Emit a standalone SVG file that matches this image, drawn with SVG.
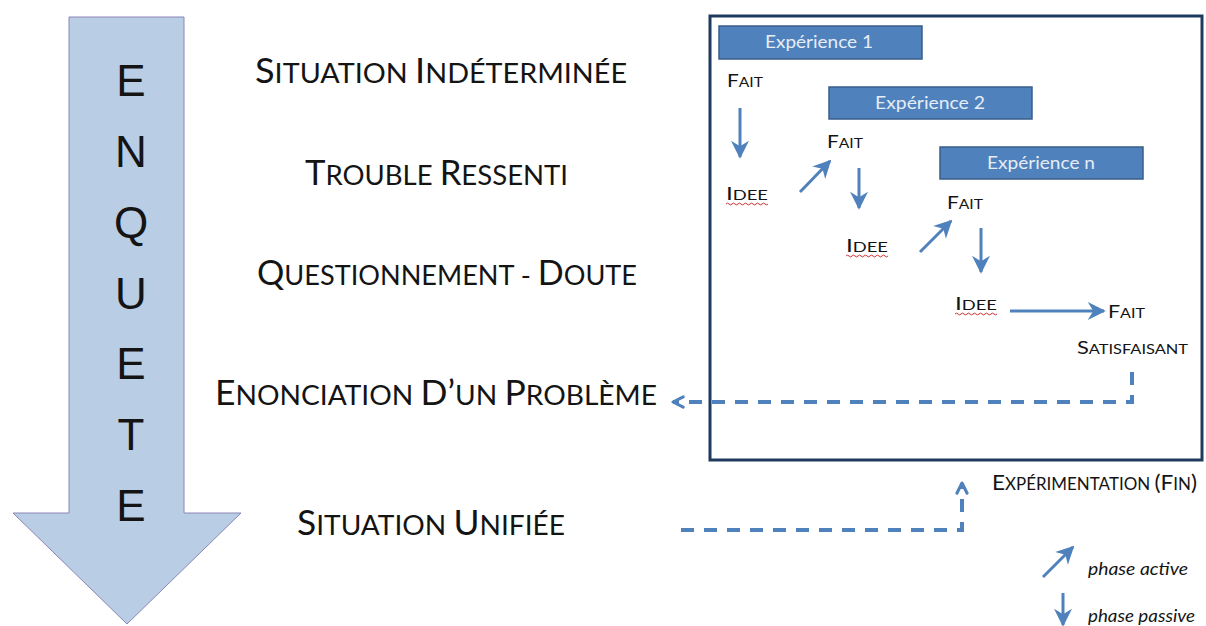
<svg xmlns="http://www.w3.org/2000/svg" width="1206" height="626" viewBox="0 0 1206 626">
<style>
text{font-family:Lato,"Open Sans","Liberation Sans",sans-serif;fill:#141414}
.main .b{font-size:34px}
.main .s{font-size:27px}
.lbl .b{font-size:18px}
.lbl .s{font-size:13.5px}
.lbl2 .b{font-size:22px}
.lbl2 .s{font-size:16.5px}
.exp rect{fill:#4F81BD;stroke:#385D8A;stroke-width:1.5}
.exp text{fill:#e6edf6;font-size:17px;text-anchor:middle}
.arr{stroke:#4F81BD;stroke-width:3;fill:none;marker-end:url(#ah)}
.dash{stroke:#4F81BD;stroke-width:4;fill:none;stroke-dasharray:13 10;marker-end:url(#ch)}
.sq{stroke:#d03030;stroke-width:1;fill:none}
.leg{font-style:italic;font-size:18px}
.enq{font-family:"Liberation Sans",Arial,sans-serif;font-size:44px;text-anchor:middle}
</style>
<defs>
<marker id="ah" viewBox="0 0 10 10" refX="9" refY="5" markerWidth="6" markerHeight="6" orient="auto" overflow="visible">
<path d="M0,0 L10,5 L0,10 L3,5 z" fill="#4F81BD"/>
</marker>
<marker id="ch" viewBox="0 0 10 10" refX="9" refY="5" markerWidth="3.2" markerHeight="3.2" orient="auto" overflow="visible">
<path d="M1,1 L9,5 L1,9" fill="none" stroke="#4F81BD" stroke-width="2.4" stroke-linecap="round" stroke-linejoin="round"/>
</marker>
</defs>
<rect width="1206" height="626" fill="#ffffff"/>

<g id="enquete-arrow">
<polygon points="69,17 184,17 184,513 241,513 127,624 13,513 69,513" fill="#B9CDE5" stroke="#8B86B8" stroke-width="1"/>
<text class="enq" x="131" y="96">E</text>
<text class="enq" x="131" y="167">N</text>
<text class="enq" x="131" y="238">Q</text>
<text class="enq" x="131" y="309">U</text>
<text class="enq" x="131" y="379">E</text>
<text class="enq" x="131" y="450">T</text>
<text class="enq" x="131" y="521">E</text>
</g>

<g id="situation-indeterminee" class="main"><text x="255" y="83" textLength="372" lengthAdjust="spacingAndGlyphs"><tspan class="b">S</tspan><tspan class="s">ITUATION </tspan><tspan class="b">I</tspan><tspan class="s">NDÉTERMINÉE</tspan></text></g>
<g id="trouble-ressenti" class="main"><text x="305" y="185" textLength="263" lengthAdjust="spacingAndGlyphs"><tspan class="b">T</tspan><tspan class="s">ROUBLE </tspan><tspan class="b">R</tspan><tspan class="s">ESSENTI</tspan></text></g>
<g id="questionnement" class="main"><text x="257" y="285" textLength="380" lengthAdjust="spacingAndGlyphs"><tspan class="b">Q</tspan><tspan class="s">UESTIONNEMENT - </tspan><tspan class="b">D</tspan><tspan class="s">OUTE</tspan></text></g>
<g id="enonciation" class="main"><text x="215" y="405" textLength="442" lengthAdjust="spacingAndGlyphs"><tspan class="b">E</tspan><tspan class="s">NONCIATION </tspan><tspan class="b">D’</tspan><tspan class="s">UN </tspan><tspan class="b">P</tspan><tspan class="s">ROBLÈME</tspan></text></g>
<g id="situation-unifiee" class="main"><text x="297" y="535" textLength="268" lengthAdjust="spacingAndGlyphs"><tspan class="b">S</tspan><tspan class="s">ITUATION </tspan><tspan class="b">U</tspan><tspan class="s">NIFIÉE</tspan></text></g>

<g id="experimentation-box">
<rect x="710" y="16" width="492" height="444" fill="none" stroke="#1F3A5F" stroke-width="3"/>
</g>

<g id="experience-1" class="exp"><rect x="719" y="26" width="203" height="33"/><text x="819" y="48" textLength="108" lengthAdjust="spacingAndGlyphs">Expérience 1</text></g>
<g id="experience-2" class="exp"><rect x="829" y="87" width="203" height="32"/><text x="930" y="109" textLength="110" lengthAdjust="spacingAndGlyphs">Expérience 2</text></g>
<g id="experience-n" class="exp"><rect x="940" y="147" width="203" height="32"/><text x="1041" y="169" textLength="108" lengthAdjust="spacingAndGlyphs">Expérience n</text></g>

<g id="fait-1" class="lbl"><text x="727" y="87" textLength="36" lengthAdjust="spacingAndGlyphs"><tspan class="b">F</tspan><tspan class="s">AIT</tspan></text></g>
<g id="idee-1" class="lbl"><text x="726" y="200" textLength="42" lengthAdjust="spacingAndGlyphs"><tspan class="b">I</tspan><tspan class="s">DEE</tspan></text>
<path class="sq" d="M726,204 q1.5,-1.8 3,0 t3,0 t3,0 t3,0 t3,0 t3,0 t3,0 t3,0 t3,0 t3,0 t3,0 t3,0 t3,0 t3,0"/></g>
<g id="fait-2" class="lbl"><text x="827" y="148" textLength="36" lengthAdjust="spacingAndGlyphs"><tspan class="b">F</tspan><tspan class="s">AIT</tspan></text></g>
<g id="idee-2" class="lbl"><text x="846" y="252" textLength="42" lengthAdjust="spacingAndGlyphs"><tspan class="b">I</tspan><tspan class="s">DEE</tspan></text>
<path class="sq" d="M846,256 q1.5,-1.8 3,0 t3,0 t3,0 t3,0 t3,0 t3,0 t3,0 t3,0 t3,0 t3,0 t3,0 t3,0 t3,0 t3,0"/></g>
<g id="fait-3" class="lbl"><text x="947" y="209" textLength="36" lengthAdjust="spacingAndGlyphs"><tspan class="b">F</tspan><tspan class="s">AIT</tspan></text></g>
<g id="idee-3" class="lbl"><text x="955" y="310" textLength="42" lengthAdjust="spacingAndGlyphs"><tspan class="b">I</tspan><tspan class="s">DEE</tspan></text>
<path class="sq" d="M955,314 q1.5,-1.8 3,0 t3,0 t3,0 t3,0 t3,0 t3,0 t3,0 t3,0 t3,0 t3,0 t3,0 t3,0 t3,0 t3,0"/></g>
<g id="fait-satisfaisant" class="lbl">
<text x="1108" y="318" textLength="37" lengthAdjust="spacingAndGlyphs"><tspan class="b">F</tspan><tspan class="s">AIT</tspan></text>
<text x="1077" y="354" textLength="111" lengthAdjust="spacingAndGlyphs"><tspan class="b">S</tspan><tspan class="s">ATISFAISANT</tspan></text>
</g>
<g id="experimentation-fin" class="lbl2"><text x="992" y="490" textLength="205" lengthAdjust="spacingAndGlyphs"><tspan class="b">E</tspan><tspan class="s">XPÉRIMENTATION </tspan><tspan class="b">(F</tspan><tspan class="s">IN</tspan><tspan class="b">)</tspan></text></g>

<g id="legend">
<text class="leg" x="1088" y="575" textLength="100" lengthAdjust="spacingAndGlyphs">phase active</text>
<text class="leg" x="1088" y="622" textLength="107" lengthAdjust="spacingAndGlyphs">phase passive</text>
</g>

<g id="connectors">
<path class="arr" d="M740,108 V157"/>
<path class="arr" d="M800,192 L830,161"/>
<path class="arr" d="M859,168 V208"/>
<path class="arr" d="M920,252 L951,221"/>
<path class="arr" d="M981,228 V272"/>
<path class="arr" d="M1010,311 H1104"/>
<path class="dash" d="M1132,372 V402 H673"/>
<path class="dash" d="M681,530 H962 V483"/>
<path class="arr" d="M1043,577 L1073,547"/>
<path class="arr" d="M1063,593 V625"/>
</g>
</svg>
